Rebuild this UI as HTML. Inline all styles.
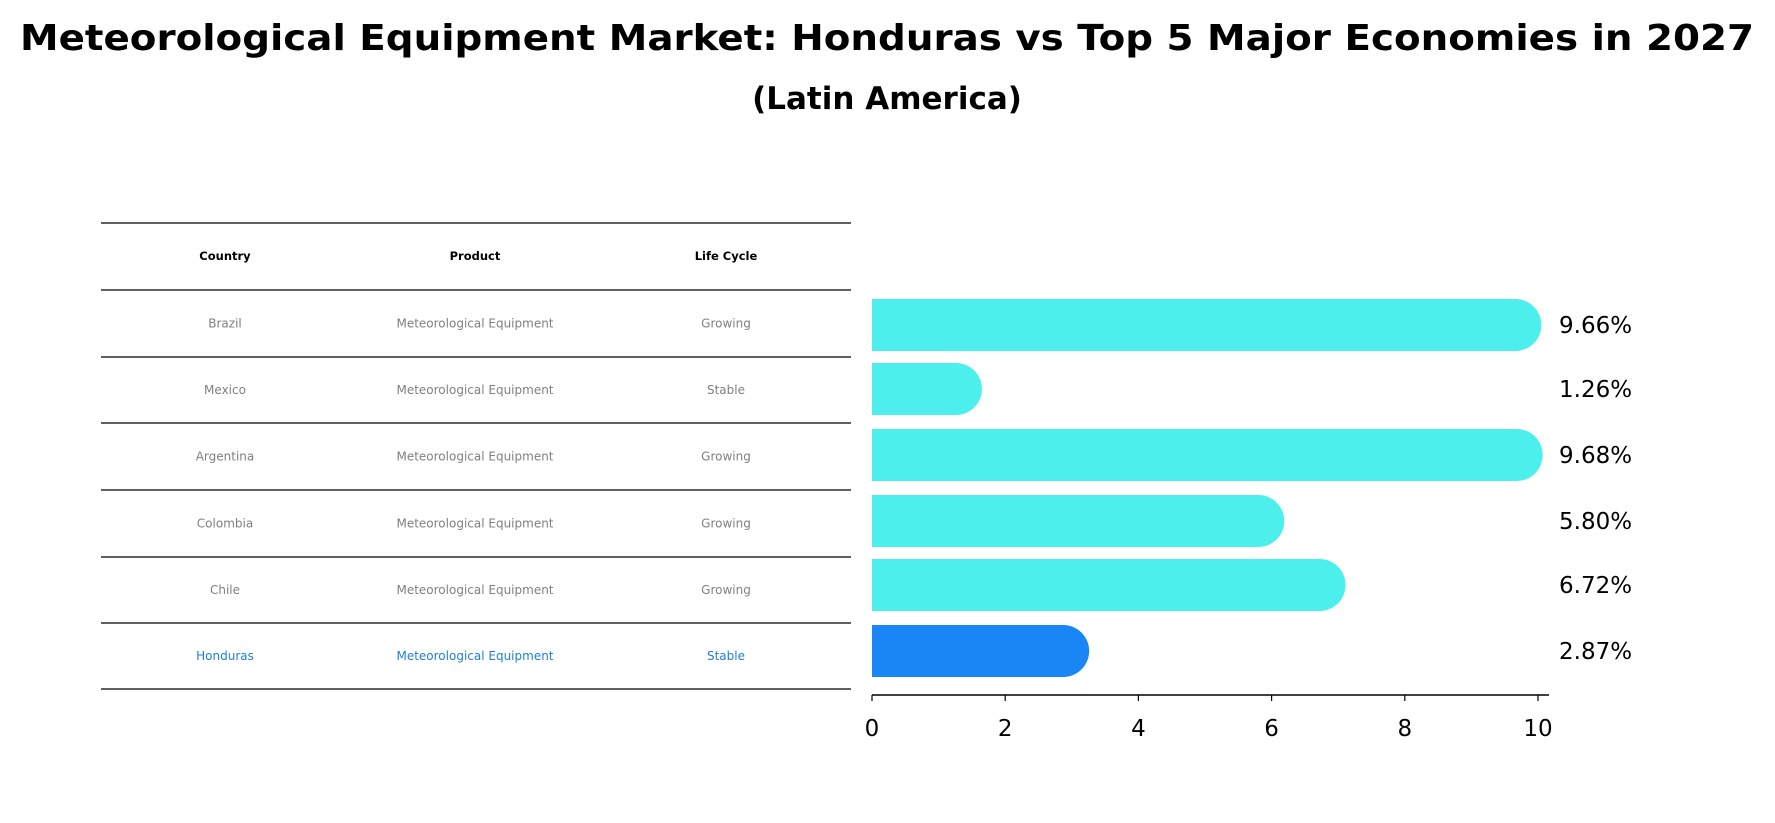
<!DOCTYPE html>
<html><head><meta charset="utf-8"><style>
body{margin:0;background:#fff;}
svg{display:block;font-family:"DejaVu Sans","Liberation Sans",sans-serif;}
</style></head><body>
<svg id="chart" width="1775" height="823" viewBox="0 0 1775 823">
<text x="887" y="50" text-anchor="middle" font-size="36" font-weight="bold" textLength="1734" lengthAdjust="spacingAndGlyphs">Meteorological Equipment Market: Honduras vs Top 5 Major Economies in 2027</text>
<text x="887" y="109" text-anchor="middle" font-size="31" font-weight="bold">(Latin America)</text>
<g id="table"></g>
<g id="bars"></g>
</svg>
<script>
const countries=["Brazil","Mexico","Argentina","Colombia","Chile","Honduras"];
const products=["Meteorological Equipment","Meteorological Equipment","Meteorological Equipment","Meteorological Equipment","Meteorological Equipment","Meteorological Equipment"];
const lifeCycles=["Growing","Stable","Growing","Growing","Growing","Stable"];
const values=[9.66,1.26,9.68,5.80,6.72,2.87];
const valueLabels=["9.66%","1.26%","9.68%","5.80%","6.72%","2.87%"];
const ticks=[0,2,4,6,8,10];
const headers=["Country","Product","Life Cycle"];

const NS="http://www.w3.org/2000/svg";
function mk(tag,attrs,parent){const e=document.createElementNS(NS,tag);for(const k in attrs)e.setAttribute(k,attrs[k]);parent.appendChild(e);return e;}
const tbl=document.getElementById('table');
const lineYs=[223,290,357,423,490,557,623,689];
const colX=[225,475,726];
lineYs.forEach((y,i)=>{const l=mk('line',{x1:101,x2:851,y1:y,y2:y,stroke:'#000','stroke-width':1.2},tbl);

});
headers.forEach((h,j)=>{const t=mk('text',{x:colX[j],y:260,'text-anchor':'middle','font-size':11.5,'font-weight':'bold'},tbl);t.textContent=h;

});
countries.forEach((c,i)=>{const y=(lineYs[i+1]+lineYs[i+2])/2+4;const col=c==="Honduras"?"#1f7fd6":"#808080";
[c,products[i],lifeCycles[i]].forEach((v,j)=>{const t=mk('text',{x:colX[j],y:y,'text-anchor':'middle','font-size':12,fill:col},tbl);t.textContent=v;

});});

const g=document.getElementById('bars');
const x0=872,x1=1538;const xs=v=>x0+(v-0)/(10-0)*(x1-x0);
const rowY=[325,389,455,521,585,651];const h=52;
values.forEach((v,i)=>{const y=rowY[i]-h/2;const xe=xs(v);const r=h/2;
const col=countries[i]==="Honduras"?"#1a85f5":"#4cefec";
const p=mk('path',{d:`M${x0},${y} L${xe},${y} A${r},${r} 0 0 1 ${xe},${y+h} L${x0},${y+h} Z`,fill:col},g);


const t=mk('text',{x:1559,y:rowY[i]+8,'font-size':23},g);t.textContent=valueLabels[i];

});
const ax=mk('line',{x1:x0,x2:1549,y1:695,y2:695,stroke:'#000','stroke-width':1.5},g);


ticks.forEach(tv=>{const x=xs(tv);mk('line',{x1:x,x2:x,y1:695,y2:701,stroke:'#000','stroke-width':1.2},g);
const t=mk('text',{x:x,y:736,'text-anchor':'middle','font-size':23},g);t.textContent=tv;

});
</script>
</body></html>
